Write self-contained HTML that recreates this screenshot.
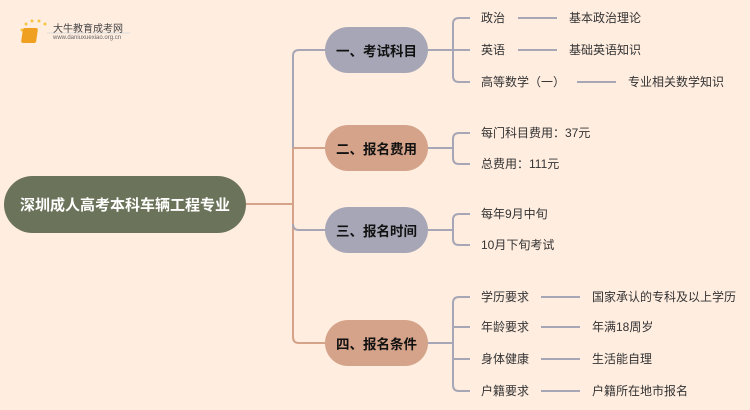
<!DOCTYPE html>
<html><head><meta charset="utf-8"><style>
body{margin:0;width:750px;height:410px;background:#ffede0;overflow:hidden;font-family:"Liberation Sans","Noto Sans CJK SC",sans-serif;position:relative}
.n{position:absolute;display:flex;align-items:center;justify-content:center;font-weight:bold;border-radius:24px;white-space:nowrap}
.b{left:325px;width:103px;height:46px;font-size:13.5px;color:#111}
.t{position:absolute;font-size:12px;color:#333;line-height:16px;white-space:nowrap}
</style></head><body>
<svg width="750" height="410" style="position:absolute;left:0;top:0" fill="none" stroke-width="2">
<g stroke="#d4a389">
<path d="M246 204H293"/>
<path d="M299 148H293V337Q293 343 299 343H325"/>
<path d="M293 148H325"/>
</g>
<g stroke="#a7a6b6">
<path d="M325 50H299Q293 50 293 56V148"/>
<path d="M293 224Q293 230 299 230H325"/>
<path d="M428 50H453M470 18H459Q453 18 453 24V76Q453 82 459 82H470M453 50H470"/>
<path d="M518 18H557M518 50H557M577 82H616"/>
<path d="M428 148H453M470 133H459Q453 133 453 139V158Q453 164 459 164H470"/>
<path d="M428 230H453M470 214H459Q453 214 453 220V239Q453 245 459 245H470"/>
<path d="M428 343H453M470 297H459Q453 297 453 303V385Q453 391 459 391H470M453 327H470M453 359H470"/>
<path d="M541 297H580M541 327H580M541 359H580M541 391H580"/>
</g>
<g fill="#f5c542"><circle cx="22" cy="30" r="1.5"/><circle cx="26" cy="24" r="1.5"/><circle cx="32" cy="21" r="1.5"/><circle cx="39" cy="21" r="1.5"/><circle cx="45" cy="24" r="1.5"/></g>
<rect x="27" y="28" width="15" height="15" rx="2" fill="#f0a020" transform="skewX(-8)"/>
<path d="M47 33H130" stroke="#ddd" stroke-width="1"/>
</svg>
<div style="position:absolute;left:53px;top:20px;font-size:10px;color:#444">大牛教育成考网</div>
<div style="position:absolute;left:53px;top:35px;font-size:6px;color:#666">www.daniuxuexiao.org.cn</div>
<div class="n" style="left:4px;top:176px;width:242px;height:57px;border-radius:29px;background:#6b735a;color:#fff;font-size:15px">深圳成人高考本科车辆工程专业</div>
<div class="n b" style="top:27px;background:#a7a6b6">一、考试科目</div>
<div class="n b" style="top:125px;background:#d4a389">二、报名费用</div>
<div class="n b" style="top:207px;background:#a7a6b6">三、报名时间</div>
<div class="n b" style="top:320px;background:#d4a389">四、报名条件</div>
<div class="t" style="left:481px;top:10px">政治</div><div class="t" style="left:569px;top:10px">基本政治理论</div>
<div class="t" style="left:481px;top:42px">英语</div><div class="t" style="left:569px;top:42px">基础英语知识</div>
<div class="t" style="left:481px;top:74px">高等数学（一）</div><div class="t" style="left:628px;top:74px">专业相关数学知识</div>
<div class="t" style="left:481px;top:125px">每门科目费用：37元</div>
<div class="t" style="left:481px;top:156px">总费用：111元</div>
<div class="t" style="left:481px;top:206px">每年9月中旬</div>
<div class="t" style="left:481px;top:237px">10月下旬考试</div>
<div class="t" style="left:481px;top:289px">学历要求</div><div class="t" style="left:592px;top:289px">国家承认的专科及以上学历</div>
<div class="t" style="left:481px;top:319px">年龄要求</div><div class="t" style="left:592px;top:319px">年满18周岁</div>
<div class="t" style="left:481px;top:351px">身体健康</div><div class="t" style="left:592px;top:351px">生活能自理</div>
<div class="t" style="left:481px;top:383px">户籍要求</div><div class="t" style="left:592px;top:383px">户籍所在地市报名</div>
</body></html>
